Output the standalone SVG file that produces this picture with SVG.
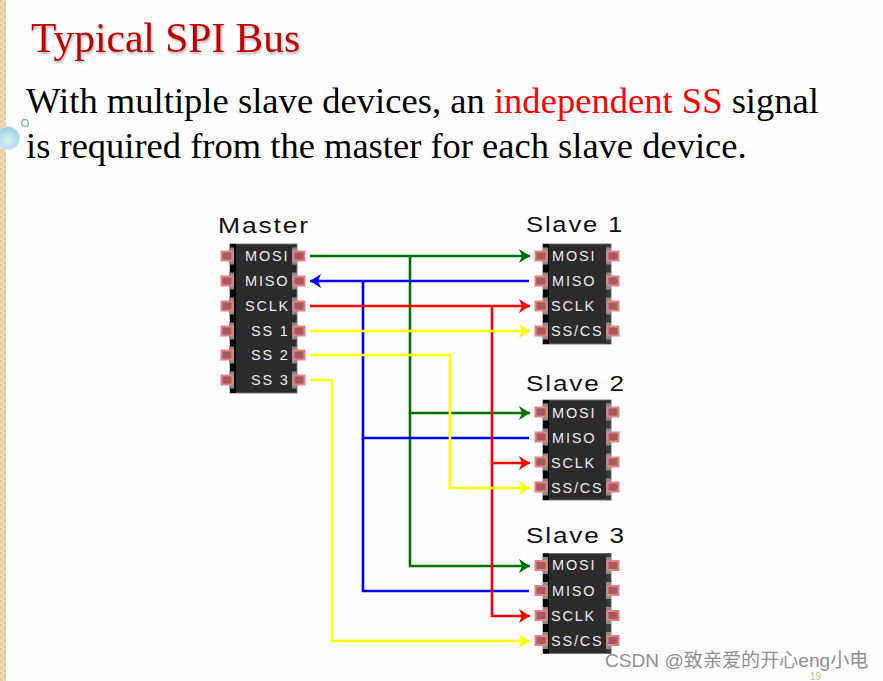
<svg xmlns="http://www.w3.org/2000/svg" width="883" height="681" viewBox="0 0 883 681">
  <style>
    .title { font-family: "Liberation Serif", serif; font-size: 41.5px; fill: #c00000; }
    .body { font-family: "Liberation Serif", serif; font-size: 36.5px; fill: #000; }
    .chipname { font-family: "Liberation Sans", sans-serif; font-size: 21.5px; letter-spacing: 1.5px; fill: #111; }
    .pinname { font-family: "Liberation Sans", sans-serif; font-size: 14.5px; letter-spacing: 1.8px; fill: #ececec; }
    .body-chip { fill: #2b2b2b; stroke: #777; stroke-width: 1; }
    .edge { fill: #050505; }
    .pin { fill: #a25c5f; stroke: #ea8084; stroke-width: 2; }
    .lead { fill: #8a8a8a; }
    .wire { fill: none; stroke-width: 2.6; }
    .g { stroke: #007000; }
    .b { stroke: #0000ff; }
    .r { stroke: #ff0000; }
    .y { stroke: #ffff00; }
  </style>
  <defs>
    <filter id="soft-shadow" x="-5%" y="-20%" width="110%" height="150%">
      <feDropShadow dx="1" dy="2" stdDeviation="1.200" flood-color="#000" flood-opacity="0.300"/>
    </filter>
    <radialGradient id="bubble" cx="0.500" cy="0.650" r="0.600">
      <stop offset="0" stop-color="#d8eff7"/>
      <stop offset="1" stop-color="#9fd2e6"/>
    </radialGradient>
    <pattern id="weave" width="6" height="6" patternUnits="userSpaceOnUse">
      <rect width="6" height="6" fill="#ecdcb4"/>
      <rect width="3" height="3" fill="#e3cf9f"/>
      <rect x="3" y="3" width="3" height="3" fill="#e3cf9f"/>
    </pattern>
    <marker id="ag" markerUnits="userSpaceOnUse" markerWidth="12" markerHeight="14" refX="11" refY="7" orient="auto"><path d="M0,0 L11,7 L0,14 L3,7 Z" fill="#007000"/></marker>
    <marker id="ab" markerUnits="userSpaceOnUse" markerWidth="12" markerHeight="14" refX="11" refY="7" orient="auto"><path d="M0,0 L11,7 L0,14 L3,7 Z" fill="#0000ff"/></marker>
    <marker id="ar" markerUnits="userSpaceOnUse" markerWidth="12" markerHeight="14" refX="11" refY="7" orient="auto"><path d="M0,0 L11,7 L0,14 L3,7 Z" fill="#ff0000"/></marker>
    <marker id="ay" markerUnits="userSpaceOnUse" markerWidth="12" markerHeight="14" refX="11" refY="7" orient="auto"><path d="M0,0 L11,7 L0,14 L3,7 Z" fill="#ffff00"/></marker>
    <g id="pinL"><rect class="lead" x="2" y="-8.500" width="5" height="17"/><rect class="pin" x="-5.500" y="-4.500" width="11" height="9"/></g>
    <g id="pinR"><rect class="lead" x="-7" y="-8.500" width="5" height="17"/><rect class="pin" x="-5.500" y="-4.500" width="11" height="9"/></g>
    <g id="slave-body">
      <rect class="body-chip" x="0" y="0" width="68" height="100"/>
      <rect class="edge" x="0" y="0" width="6" height="100"/>
      <rect x="63" y="0" width="4.500" height="100" fill="#3a3a3a"/>
      <use href="#pinL" x="-2" y="12"/><use href="#pinL" x="-2" y="37"/><use href="#pinL" x="-2" y="62"/><use href="#pinL" x="-2" y="87"/>
      <use href="#pinR" x="70" y="12"/><use href="#pinR" x="70" y="37"/><use href="#pinR" x="70" y="62"/><use href="#pinR" x="70" y="87"/>
    </g>
  </defs>

  <!-- slide background and bubbles -->
  <rect width="883" height="681" fill="#fefefe"/>
  <rect x="0" y="0" width="6" height="681" fill="url(#weave)"/>
  <circle cx="8" cy="138" r="11.500" fill="url(#bubble)" stroke="#cfe9f3"/>
  <circle cx="25" cy="123" r="3.500" fill="#fff" stroke="#7fb8cc" stroke-width="1.500"/>

  <text class="title" x="31" y="52" filter="url(#soft-shadow)">Typical SPI Bus</text>
  <text class="body" x="26" y="113" textLength="793">With multiple slave devices, an <tspan fill="#ff0000">independent SS</tspan> signal</text>
  <text class="body" x="26" y="158">is required from the master for each slave device.</text>

  <g id="connectors">
    <path class="wire g" d="M310,256H530" marker-end="url(#ag)"/>
    <path class="wire g" d="M410,256V413H530" marker-end="url(#ag)"/>
    <path class="wire g" d="M410,413V566H530" marker-end="url(#ag)"/>
    <path class="wire b" d="M529,281H310" marker-end="url(#ab)"/>
    <path class="wire b" d="M363,281V438H529"/>
    <path class="wire b" d="M363,438V591H529"/>
    <path class="wire r" d="M310,306H530" marker-end="url(#ar)"/>
    <path class="wire r" d="M492,306V463H530" marker-end="url(#ar)"/>
    <path class="wire r" d="M492,463V616H530" marker-end="url(#ar)"/>
    <path class="wire y" d="M310,331H530" marker-end="url(#ay)"/>
    <path class="wire y" d="M310,355H450V488H530" marker-end="url(#ay)"/>
    <path class="wire y" d="M310,380H332V641H530" marker-end="url(#ay)"/>
  </g>

  <g id="master">
    <text class="chipname" x="218" y="233" textLength="92" lengthAdjust="spacingAndGlyphs">Master</text>
    <rect class="body-chip" x="230" y="244" width="67" height="149"/>
    <rect class="edge" x="230" y="244" width="6" height="149"/>
    <use href="#pinL" x="227" y="256"/><use href="#pinL" x="227" y="281"/><use href="#pinL" x="227" y="306"/><use href="#pinL" x="227" y="331"/><use href="#pinL" x="227" y="355"/><use href="#pinL" x="227" y="380"/>
    <use href="#pinR" x="299" y="256"/><use href="#pinR" x="299" y="281"/><use href="#pinR" x="299" y="306"/><use href="#pinR" x="299" y="331"/><use href="#pinR" x="299" y="355"/><use href="#pinR" x="299" y="380"/>
    <text class="pinname" x="245" y="261">MOSI</text>
    <text class="pinname" x="245" y="286">MISO</text>
    <text class="pinname" x="245" y="311">SCLK</text>
    <text class="pinname" x="251" y="336" xml:space="preserve">SS 1</text>
    <text class="pinname" x="251" y="360" xml:space="preserve">SS 2</text>
    <text class="pinname" x="251" y="385" xml:space="preserve">SS 3</text>
  </g>

  <g id="slave1">
    <text class="chipname" x="526" y="232" textLength="98" lengthAdjust="spacingAndGlyphs">Slave 1</text>
    <use href="#slave-body" x="543" y="244"/>
    <text class="pinname" x="552" y="261">MOSI</text>
    <text class="pinname" x="552" y="286">MISO</text>
    <text class="pinname" x="551" y="311">SCLK</text>
    <text class="pinname" x="551" y="336">SS/CS</text>
  </g>

  <g id="slave2">
    <text class="chipname" x="526" y="391" textLength="100" lengthAdjust="spacingAndGlyphs">Slave 2</text>
    <use href="#slave-body" x="543" y="400"/>
    <text class="pinname" x="552" y="418">MOSI</text>
    <text class="pinname" x="552" y="443">MISO</text>
    <text class="pinname" x="551" y="468">SCLK</text>
    <text class="pinname" x="551" y="493">SS/CS</text>
  </g>

  <g id="slave3">
    <text class="chipname" x="526" y="543" textLength="100" lengthAdjust="spacingAndGlyphs">Slave 3</text>
    <use href="#slave-body" x="543" y="553.500"/>
    <text class="pinname" x="552" y="570">MOSI</text>
    <text class="pinname" x="552" y="596">MISO</text>
    <text class="pinname" x="551" y="621">SCLK</text>
    <text class="pinname" x="551" y="646">SS/CS</text>
  </g>

  <text x="810" y="680" font-family="'Liberation Sans',sans-serif" font-size="10" fill="#c9b88f">19</text>
  <text x="605" y="667" font-family="'Liberation Sans','Noto Sans CJK SC',sans-serif" font-size="19.100" fill="#8f8f8f">CSDN @致亲爱的开心eng小电</text>
</svg>
